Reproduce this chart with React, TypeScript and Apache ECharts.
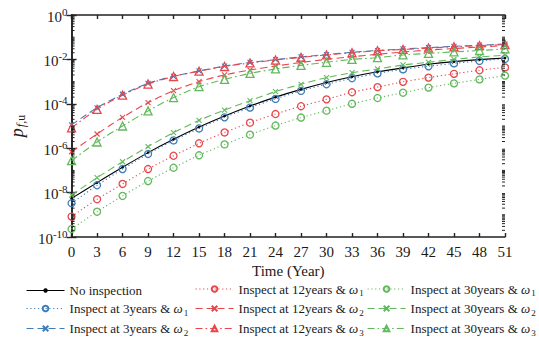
import React, { useEffect, useRef } from "react";
import * as echarts from "echarts";

// Time axis (years)
const years = [0, 3, 6, 9, 12, 15, 18, 21, 24, 27, 30, 33, 36, 39, 42, 45, 48, 51];

// log10 of p_f,u
const noInspection = [-8.26, -7.55, -6.86, -6.2, -5.6, -5.05, -4.55, -4.1, -3.7, -3.35, -3.04, -2.78, -2.56, -2.38, -2.22, -2.1, -2.01, -1.94];
const insp3w1 = [-8.48, -7.67, -6.94, -6.26, -5.65, -5.11, -4.61, -4.17, -3.78, -3.42, -3.12, -2.85, -2.63, -2.45, -2.31, -2.18, -2.07, -1.98];
const insp3w2 = [-4.95, -4.18, -3.57, -3.08, -2.76, -2.52, -2.3, -2.14, -2.01, -1.89, -1.78, -1.68, -1.6, -1.53, -1.47, -1.41, -1.36, -1.31];
const insp12w1 = [-9.08, -8.3, -7.61, -6.94, -6.34, -5.78, -5.29, -4.85, -4.46, -4.11, -3.8, -3.48, -3.25, -3.01, -2.82, -2.65, -2.49, -2.36];
const insp12w2 = [-6.16, -5.36, -4.61, -3.95, -3.41, -3.0, -2.7, -2.48, -2.3, -2.14, -2.0, -1.88, -1.77, -1.67, -1.58, -1.51, -1.44, -1.38];
const insp12w3 = [-5.08, -4.25, -3.61, -3.11, -2.77, -2.53, -2.32, -2.16, -2.03, -1.91, -1.8, -1.7, -1.61, -1.55, -1.49, -1.43, -1.38, -1.33];
const insp30w1 = [-9.64, -8.86, -8.15, -7.48, -6.88, -6.32, -5.83, -5.39, -4.98, -4.62, -4.31, -4.0, -3.74, -3.5, -3.27, -3.08, -2.9, -2.73];
const insp30w2 = [-8.11, -7.33, -6.61, -5.93, -5.3, -4.75, -4.28, -3.86, -3.45, -3.12, -2.82, -2.6, -2.43, -2.25, -2.13, -2.0, -1.89, -1.81];
const insp30w3 = [-6.56, -5.72, -5.0, -4.32, -3.72, -3.23, -2.9, -2.63, -2.43, -2.27, -2.13, -2.0, -1.92, -1.8, -1.73, -1.66, -1.6, -1.53];

const seriesNames = [
  "No inspection",
  "Inspect at 3years & ω1",
  "Inspect at 3years & ω2",
  "Inspect at 12years & ω1",
  "Inspect at 12years & ω2",
  "Inspect at 12years & ω3",
  "Inspect at 30years & ω1",
  "Inspect at 30years & ω2",
  "Inspect at 30years & ω3",
];

const FONT = "'Liberation Serif', 'Times New Roman', serif";
const TXT = "#1a1a1a";
const BLACK = "#000000";
const BLUE = "#3f7cb8";
const RED = "#e8464b";
const GREEN = "#62b95c";

const X_SYMBOL = "path://M0,0L10,10M10,0L0,10";

export default function App() {
  const ref = useRef<HTMLDivElement>(null);

  useEffect(() => {
    if (!ref.current) return;
    const chart = echarts.init(ref.current, undefined, { renderer: "svg" });

    const toData = (arr: number[]) => years.map((y, i) => [y, Math.pow(10, arr[i])]);

    const dotted = [1.2, 2.6];
    const dashed = [7, 4];
    const dashDot = [7, 3, 1.6, 3];

    type Spec = { values: number[]; color: string; dash: any; symbol: string; size: number; hollow: boolean };
    const specs: Spec[] = [
      { values: noInspection, color: BLACK, dash: "solid", symbol: "circle", size: 1.5, hollow: false },
      { values: insp3w1, color: BLUE, dash: dotted, symbol: "circle", size: 7, hollow: true },
      { values: insp3w2, color: BLUE, dash: dashed, symbol: X_SYMBOL, size: 5, hollow: false },
      { values: insp12w1, color: RED, dash: dotted, symbol: "circle", size: 7, hollow: true },
      { values: insp12w2, color: RED, dash: dashed, symbol: X_SYMBOL, size: 5, hollow: false },
      { values: insp12w3, color: RED, dash: dashDot, symbol: "triangle", size: 8, hollow: true },
      { values: insp30w1, color: GREEN, dash: dotted, symbol: "circle", size: 7, hollow: true },
      { values: insp30w2, color: GREEN, dash: dashed, symbol: X_SYMBOL, size: 5, hollow: false },
      { values: insp30w3, color: GREEN, dash: dashDot, symbol: "triangle", size: 8, hollow: true },
    ];

    const lineSeries = specs.map((s, i) => ({
      name: seriesNames[i],
      type: "line",
      data: toData(s.values),
      smooth: 0.3,
      symbol: s.symbol,
      symbolSize: s.size,
      showAllSymbol: true,
      lineStyle: { color: s.color, width: 1.1, type: s.dash },
      itemStyle: s.hollow
        ? { color: "rgba(255,255,255,0)", borderColor: s.color, borderWidth: 1.3 }
        : { color: s.color, borderColor: s.color, borderWidth: 1.1 },
      emphasis: { disabled: true },
      z: 3 + i,
    }));

    // minor log ticks (2..9 x 10^k and odd decades)
    const minorTicks: number[][] = [];
    for (let k = -10; k < 0; k++) {
      for (let m = 1; m <= 9; m++) {
        if (m === 1 && k % 2 === 0) continue;
        minorTicks.push([0, m * Math.pow(10, k)]);
      }
    }

    const minorTickSeries = {
      type: "custom",
      silent: true,
      data: minorTicks,
      renderItem: (params: any, api: any) => {
        const v = api.value(1);
        const pl = api.coord([0, v]);
        const pr = api.coord([51, v]);
        const len = 3;
        return {
          type: "group",
          children: [
            { type: "line", shape: { x1: pl[0], y1: pl[1], x2: pl[0] + len, y2: pl[1] }, style: { stroke: "#222", lineWidth: 1 } },
            { type: "line", shape: { x1: pr[0], y1: pr[1], x2: pr[0] - len, y2: pr[1] }, style: { stroke: "#222", lineWidth: 1 } },
          ],
        };
      },
      z: 10,
    };

    const legendFormatter = (name: string) => {
      const m = name.match(/^(.*& )ω(\d)$/);
      if (!m) return "{t|" + name + "}";
      return "{t|" + m[1] + "}{w|ω}{s|" + m[2] + "}";
    };
    const legendRich = {
      t: { fontFamily: FONT, fontSize: 13, color: TXT },
      w: { fontFamily: FONT, fontSize: 13, fontStyle: "italic", color: TXT },
      s: { fontFamily: FONT, fontSize: 9, color: TXT, padding: [8, 0, 0, 1] },
    };
    const colLeft = [26, 195, 367];
    const rowCenter = [291, 310.5, 330.5];
    const legends = seriesNames.map((name, i) => {
      const col = Math.floor(i / 3);
      const row = i % 3;
      const hasSub = /ω\d$/.test(name);
      return {
        data: [name],
        orient: "horizontal",
        left: colLeft[col],
        top: rowCenter[row] - (hasSub ? 8.5 : 7),
        itemWidth: 38,
        itemHeight: i === 0 ? 3 : 7,
        padding: 0,
        selectedMode: false,
        formatter: legendFormatter,
        lineStyle: { width: 1.1 },
        textStyle: { fontFamily: FONT, fontSize: 13, color: TXT, rich: legendRich },
      };
    });

    const axisLineStyle = { show: true, lineStyle: { color: "#222", width: 1.6 } };
    const tickStyle = { show: true, inside: true, length: 4, lineStyle: { color: "#222", width: 1.4 } };

    const option: any = {
      animation: false,
      backgroundColor: "#ffffff",
      textStyle: { fontFamily: FONT },
      grid: { left: 69, right: 34, top: 15, bottom: 105, containLabel: false },
      legend: legends,
      xAxis: [
        {
          type: "value",
          min: 0,
          max: 51,
          interval: 3,
          position: "bottom",
          axisLine: axisLineStyle,
          axisTick: tickStyle,
          splitLine: { show: false },
          axisLabel: { fontFamily: FONT, fontSize: 15, color: TXT, margin: 7 },
          name: "Time (Year)",
          nameLocation: "middle",
          nameGap: 26.5,
          nameTextStyle: { fontFamily: FONT, fontSize: 15, color: TXT },
        },
        {
          type: "value",
          min: 0,
          max: 51,
          interval: 3,
          position: "top",
          axisLine: axisLineStyle,
          axisTick: tickStyle,
          splitLine: { show: false },
          axisLabel: { show: false },
        },
      ],
      yAxis: [
        {
          type: "log",
          logBase: 10,
          min: 1e-10,
          max: 1,
          interval: 2,
          position: "left",
          axisLine: axisLineStyle,
          axisTick: { ...tickStyle, length: 5 },
          splitLine: { show: false },
          axisLabel: {
            margin: 4,
            fontFamily: FONT,
            formatter: (v: number) => "{b|10}{s|" + Math.round(Math.log10(v)) + "}",
            rich: {
              b: { fontFamily: FONT, fontSize: 15, color: TXT, padding: [3, 0, 0, 0] },
              s: { fontFamily: FONT, fontSize: 11, color: TXT, padding: [0, 0, 7, 0] },
            },
          },
          name: "{p|p}{f|f}{u|,u}",
          nameLocation: "middle",
          nameRotate: 90,
          nameGap: 44,
          nameTextStyle: {
            fontFamily: FONT,
            rich: {
              p: { fontFamily: FONT, fontSize: 18, fontStyle: "italic", color: TXT },
              f: { fontFamily: FONT, fontSize: 12, fontStyle: "italic", color: TXT, padding: [8, 0, 0, 1] },
              u: { fontFamily: FONT, fontSize: 12, color: TXT, padding: [8, 0, 0, 0] },
            },
          },
        },
        {
          type: "log",
          logBase: 10,
          min: 1e-10,
          max: 1,
          interval: 2,
          position: "right",
          axisLine: axisLineStyle,
          axisTick: { ...tickStyle, length: 5 },
          splitLine: { show: false },
          axisLabel: { show: false },
        },
      ],
      series: [...lineSeries, minorTickSeries],
    };

    chart.setOption(option);
    return () => chart.dispose();
  }, []);

  return (
    <div
      ref={ref}
      style={{ position: "absolute", left: 0, top: 0, width: 539, height: 342, background: "#fff" }}
    />
  );
}
